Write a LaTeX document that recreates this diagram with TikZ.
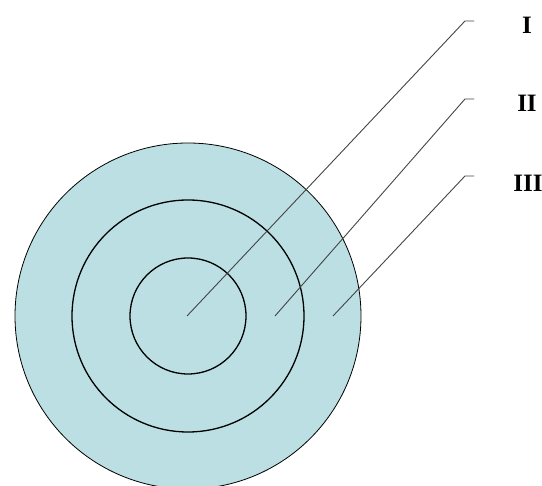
\documentclass[tikz,border=0pt]{standalone}
\usepackage{fontspec}
\setmainfont{Liberation Serif}
\definecolor{ringfill}{HTML}{BBDFE3}
\definecolor{leader}{HTML}{444444}
\begin{document}
\begin{tikzpicture}[x=1pt,y=-1pt,
  ring/.style={draw=black,line width=1.3pt},
  lead/.style={draw=leader,line width=0.9pt},
  lab/.style={font=\bfseries\fontsize{25}{25}\selectfont,inner sep=0pt}]
\useasboundingbox (0,0) rectangle (542,486);
\begin{scope}
\clip (0,0) rectangle (542,486);
\fill[ringfill] (188,316) circle[radius=173];
\draw[draw=black,line width=0.8pt] (188,316) circle[radius=173];
\end{scope}
\draw[ring] (188,316) circle[radius=116];
\draw[ring] (188,316) circle[radius=58];
\coordinate (p1) at (187,316);
\coordinate (p2) at (275,316);
\coordinate (p3) at (333,316);
\coordinate (e1) at (465,21);
\coordinate (e2) at (465,99);
\coordinate (e3) at (465,176);
\coordinate (h1) at (474,21);
\coordinate (h2) at (474,99);
\coordinate (h3) at (474,176);
\draw[lead] (p1) -- (e1) -- (h1);
\draw[lead] (p2) -- (e2) -- (h2);
\draw[lead] (p3) -- (e3) -- (h3);
\node[lab] (l1) at (527,25) {I};
\node[lab] (l2) at (527,103) {II};
\node[lab] (l3) at (528,183) {III};
\end{tikzpicture}
\end{document}
